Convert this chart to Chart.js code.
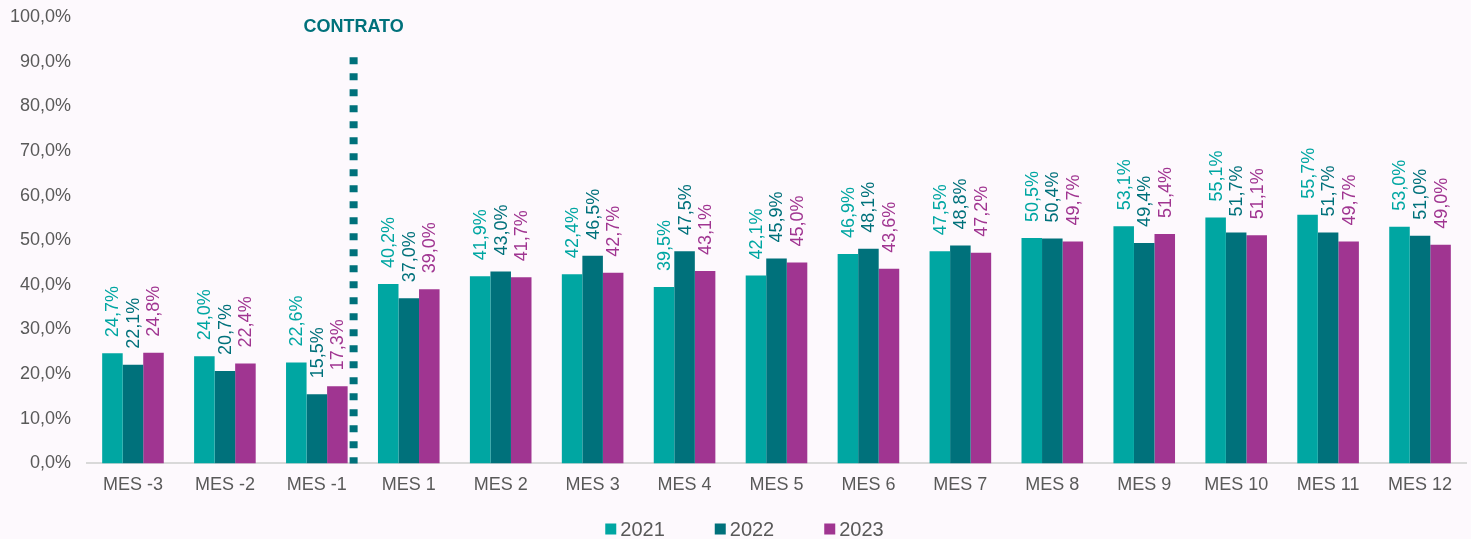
<!DOCTYPE html>
<html><head><meta charset="utf-8">
<script src="https://cdn.jsdelivr.net/npm/chart.js@4/dist/chart.umd.min.js"></script>
<style>
html,body{margin:0;padding:0;background:#fdf9fd;}
#wrap{width:1471px;height:539px;position:relative;}
</style></head>
<body><div id="wrap"><canvas id="c" width="1471" height="539"></canvas></div>
<script>
const categories = ["MES -3","MES -2","MES -1","MES 1","MES 2","MES 3","MES 4","MES 5","MES 6","MES 7","MES 8","MES 9","MES 10","MES 11","MES 12"];
const seriesNames = ["2021","2022","2023"];
const values2021 = [24.7,24.0,22.6,40.2,41.9,42.4,39.5,42.1,46.9,47.5,50.5,53.1,55.1,55.7,53.0];
const values2022 = [22.1,20.7,15.5,37.0,43.0,46.5,47.5,45.9,48.1,48.8,50.4,49.4,51.7,51.7,51.0];
const values2023 = [24.8,22.4,17.3,39.0,41.7,42.7,43.1,45.0,43.6,47.2,49.7,51.4,51.1,49.7,49.0];
const yTicks = [0,10,20,30,40,50,60,70,80,90,100];
const contratoLabel = "CONTRATO";
const contratoPosition = 2.4;
const contratoTop = 91;

const colors = ["#00a6a2","#00717b","#a03591"];
const FONT = '"Liberation Sans", Arial, sans-serif';
const fmt = v => v.toFixed(1).replace('.', ',') + '%';

const labelPlugin = {
  id: 'barLabels',
  afterDatasetsDraw(chart) {
    const ctx = chart.ctx;
    chart.data.datasets.forEach((ds, di) => {
      const meta = chart.getDatasetMeta(di);
      meta.data.forEach((bar, i) => {
        ctx.save();
        ctx.translate(bar.x, bar.y - 16);
        ctx.rotate(-Math.PI / 2);
        ctx.font = '18px ' + FONT;
        ctx.fillStyle = colors[di];
        ctx.textAlign = 'left';
        ctx.textBaseline = 'middle';
        ctx.fillText(fmt(ds.data[i]), 0, 1);
        ctx.restore();
      });
    });
  }
};

const contratoPlugin = {
  id: 'contrato',
  afterDatasetsDraw(chart) {
    const ctx = chart.ctx;
    const xs = chart.scales.x, ys = chart.scales.y;
    const x = xs.getPixelForValue(contratoPosition);
    const yTop = ys.getPixelForValue(contratoTop);
    const yBot = ys.getPixelForValue(0);
    ctx.save();
    ctx.strokeStyle = '#00717b';
    ctx.lineWidth = 8;
    ctx.setLineDash([7, 9]);
    ctx.beginPath();
    ctx.moveTo(x, yTop);
    ctx.lineTo(x, yBot);
    ctx.stroke();
    ctx.setLineDash([]);
    ctx.fillStyle = '#00717b';
    ctx.font = 'bold 18px ' + FONT;
    ctx.textAlign = 'center';
    ctx.textBaseline = 'middle';
    ctx.fillText(contratoLabel, x, 27);
    ctx.restore();
  }
};

const legendPlugin = {
  id: 'customLegend',
  afterDraw(chart) {
    const ctx = chart.ctx;
    ctx.save();
    ctx.font = '20px ' + FONT;
    const box = 11, gap = 4, between = 50;
    const items = chart.data.datasets.map((ds, i) => ({text: ds.label, color: colors[i], w: box + gap + ctx.measureText(ds.label).width}));
    const total = items.reduce((s, it) => s + it.w, 0) + between * (items.length - 1);
    let x = chart.width / 2 + 9 - total / 2;
    const y = 529;
    items.forEach(it => {
      ctx.fillStyle = it.color;
      ctx.fillRect(x, y - box / 2, box, box);
      ctx.fillStyle = '#595959';
      ctx.textAlign = 'left';
      ctx.textBaseline = 'middle';
      ctx.fillText(it.text, x + box + gap, y + 1);
      x += it.w + between;
    });
    ctx.restore();
  }
};

new Chart(document.getElementById('c'), {
  type: 'bar',
  data: {
    labels: categories,
    datasets: [
      {label: seriesNames[0], data: values2021, backgroundColor: colors[0]},
      {label: seriesNames[1], data: values2022, backgroundColor: colors[1]},
      {label: seriesNames[2], data: values2023, backgroundColor: colors[2]}
    ]
  },
  options: {
    responsive: false,
    animation: false,
    layout: {padding: {left: 0, right: 5, top: 17, bottom: 32}},
    datasets: {bar: {categoryPercentage: 0.67, barPercentage: 1.0}},
    scales: {
      x: {
        grid: {display: false, drawTicks: false},
        border: {display: true, color: '#d9d9d9', width: 2},
        ticks: {color: '#595959', font: {size: 18, family: FONT}, padding: 11, maxRotation: 0}
      },
      y: {
        min: 0, max: 100,
        afterBuildTicks(axis) { axis.ticks = yTicks.map(v => ({value: v})); },
        afterFit(axis) { axis.width = 87; axis.paddingTop = 0; axis.paddingBottom = 0; },
        grid: {display: false, drawTicks: false},
        border: {display: false},
        ticks: {color: '#595959', font: {size: 18, family: FONT}, padding: 16, callback: v => v.toFixed(1).replace('.', ',') + '%'}
      }
    },
    plugins: {
      legend: {display: false},
      tooltip: {enabled: false}
    }
  },
  plugins: [labelPlugin, contratoPlugin, legendPlugin]
});
</script></body></html>
